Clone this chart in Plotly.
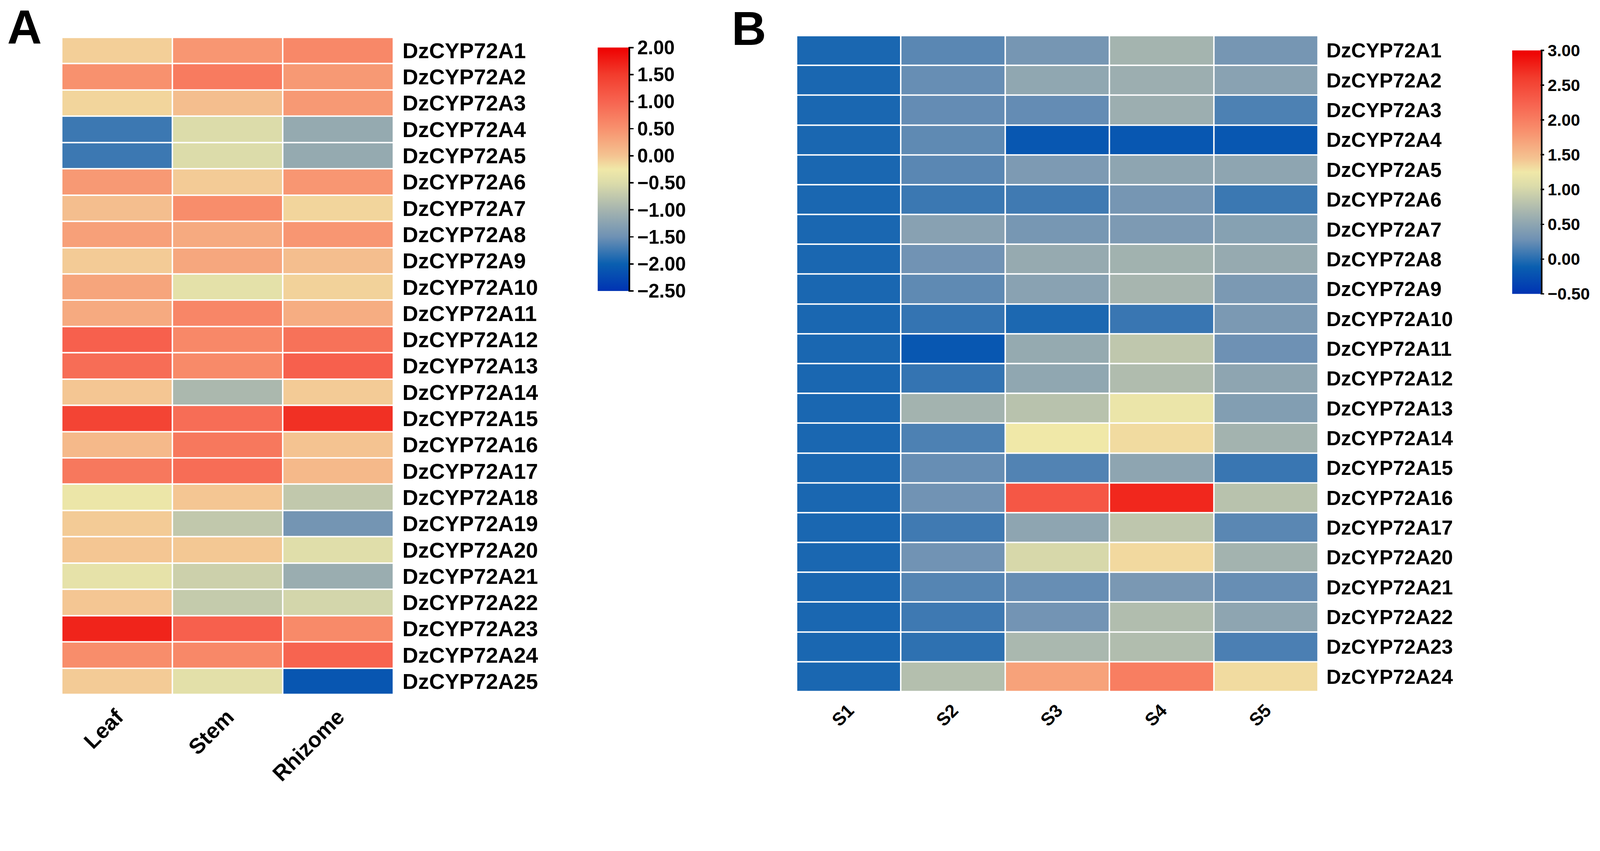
import plotly.graph_objects as go

W, H = 4409, 2179

# ---------------- Panel A data ----------------
genes_a = ["DzCYP72A1", "DzCYP72A2", "DzCYP72A3", "DzCYP72A4", "DzCYP72A5",
           "DzCYP72A6", "DzCYP72A7", "DzCYP72A8", "DzCYP72A9", "DzCYP72A10",
           "DzCYP72A11", "DzCYP72A12", "DzCYP72A13", "DzCYP72A14", "DzCYP72A15",
           "DzCYP72A16", "DzCYP72A17", "DzCYP72A18", "DzCYP72A19", "DzCYP72A20",
           "DzCYP72A21", "DzCYP72A22", "DzCYP72A23", "DzCYP72A24", "DzCYP72A25"]
tissues = ["Leaf", "Stem", "Rhizome"]
leaf = [-0.08, 0.50, -0.12, -1.75, -1.75, 0.42, 0.05, 0.35, -0.05, 0.30, 0.25, 1.05, 0.90,
        -0.02, 1.40, 0.10, 0.78, -0.30, -0.05, -0.02, -0.38, -0.02, 1.70, 0.55, -0.05]
stem = [0.45, 0.75, 0.05, -0.50, -0.50, -0.05, 0.55, 0.25, 0.28, -0.40, 0.62, 0.60, 0.58,
        -0.95, 0.90, 0.78, 0.90, -0.02, -0.75, -0.03, -0.65, -0.72, 1.05, 0.60, -0.42]
rhizome = [0.60, 0.42, 0.42, -1.15, -1.15, 0.45, -0.12, 0.45, 0.05, -0.10, 0.22, 0.85, 1.05,
           -0.05, 1.60, 0.00, 0.10, -0.75, -1.45, -0.45, -1.10, -0.58, 0.58, 1.00, -2.10]
ticks_a = [2.0, 1.5, 1.0, 0.5, 0.0, -0.5, -1.0, -1.5, -2.0, -2.5]

# ---------------- Panel B data ----------------
genes_b = ["DzCYP72A1", "DzCYP72A2", "DzCYP72A3", "DzCYP72A4", "DzCYP72A5",
           "DzCYP72A6", "DzCYP72A7", "DzCYP72A8", "DzCYP72A9", "DzCYP72A10",
           "DzCYP72A11", "DzCYP72A12", "DzCYP72A13", "DzCYP72A14", "DzCYP72A15",
           "DzCYP72A16", "DzCYP72A17", "DzCYP72A20", "DzCYP72A21", "DzCYP72A22",
           "DzCYP72A23", "DzCYP72A24"]
stages = ["S1", "S2", "S3", "S4", "S5"]
s1 = [-0.05, -0.05, -0.05, -0.05, -0.05, -0.05, -0.05, -0.05, -0.05, -0.05, -0.05,
      -0.05, -0.05, -0.05, -0.05, -0.05, -0.05, -0.05, -0.05, -0.05, -0.05, -0.05]
s2 = [0.20, 0.25, 0.24, 0.22, 0.20, 0.08, 0.46, 0.30, 0.22, 0.05, -0.18,
      0.05, 0.65, 0.15, 0.25, 0.30, 0.10, 0.30, 0.18, 0.09, 0.03, 0.77]
s3 = [0.33, 0.52, 0.24, -0.18, 0.38, 0.10, 0.34, 0.56, 0.47, -0.04, 0.55,
      0.52, 0.80, 1.25, 0.17, 2.35, 0.50, 1.02, 0.25, 0.31, 0.70, 1.70]
s4 = [0.66, 0.60, 0.60, -0.18, 0.50, 0.33, 0.38, 0.64, 0.68, 0.07, 0.85,
      0.74, 1.20, 1.32, 0.50, 2.75, 0.84, 1.33, 0.36, 0.75, 0.75, 2.00]
s5 = [0.33, 0.47, 0.15, -0.18, 0.50, 0.08, 0.45, 0.56, 0.37, 0.37, 0.28,
      0.50, 0.42, 0.65, 0.07, 0.80, 0.20, 0.65, 0.25, 0.50, 0.14, 1.32]
ticks_b = [3.0, 2.5, 2.0, 1.5, 1.0, 0.5, 0.0, -0.5]

colorscale = [
    [0.000, "#0033b3"],
    [0.111, "#0a5fb0"],
    [0.222, "#6e91b4"],
    [0.333, "#a5b4af"],
    [0.444, "#dcdcaa"],
    [0.500, "#f0e8a8"],
    [0.556, "#f4c391"],
    [0.667, "#f8916e"],
    [0.778, "#f76450"],
    [0.889, "#f23c2d"],
    [1.000, "#ee0000"],
]

FONT = "Arial, Liberation Sans, Helvetica, sans-serif"

z_a = [[leaf[i], stem[i], rhizome[i]] for i in range(len(genes_a))]
z_b = [[s1[i], s2[i], s3[i], s4[i], s5[i]] for i in range(len(genes_b))]


def px_x(p):
    return p / W


def px_y(p):
    return 1 - p / H


fig = go.Figure()

fig.add_trace(go.Heatmap(
    z=z_a, x=tissues, y=genes_a, xaxis="x", yaxis="y",
    colorscale=colorscale, zmin=-2.5, zmax=2.0, xgap=4, ygap=4,
    colorbar=dict(
        x=px_x(1647), xanchor="left", xpad=0,
        y=px_y(131), yanchor="top", ypad=0,
        len=(802 - 131) / H, lenmode="fraction",
        thickness=85, thicknessmode="pixels",
        outlinewidth=0,
        tickvals=ticks_a, tickformat=".2f",
        ticks="outside", ticklen=14, tickwidth=4, tickcolor="black",
        tickfont=dict(family=FONT, size=53, color="black", weight="bold"),
    ),
))

fig.add_trace(go.Heatmap(
    z=z_b, x=stages, y=genes_b, xaxis="x2", yaxis="y2",
    colorscale=colorscale, zmin=-0.5, zmax=3.0, xgap=4, ygap=4,
    colorbar=dict(
        x=px_x(4167), xanchor="left", xpad=0,
        y=px_y(139), yanchor="top", ypad=0,
        len=(810 - 139) / H, lenmode="fraction",
        thickness=79, thicknessmode="pixels",
        outlinewidth=0,
        tickvals=ticks_b, tickformat=".2f",
        ticks="outside", ticklen=10, tickwidth=4, tickcolor="black",
        tickfont=dict(family=FONT, size=46, color="black", weight="bold"),
    ),
))

axis_common = dict(showgrid=False, zeroline=False, showline=False, ticks="")

fig.update_layout(
    width=W, height=H,
    margin=dict(l=0, r=0, t=0, b=0, autoexpand=False),
    paper_bgcolor="white", plot_bgcolor="white",
    xaxis=dict(domain=[px_x(170), px_x(1084)], anchor="y", tickangle=-45,
               ticklabelstandoff=14,
               tickfont=dict(family=FONT, size=60, color="black", weight="bold"),
               **axis_common),
    yaxis=dict(domain=[px_y(1914), px_y(103)], anchor="x", side="right",
               autorange="reversed", ticklabelstandoff=24,
               tickfont=dict(family=FONT, size=60, color="black", weight="bold"),
               **axis_common),
    xaxis2=dict(domain=[px_x(2195), px_x(3632)], anchor="y2", tickangle=-45,
                ticklabelstandoff=12,
                tickfont=dict(family=FONT, size=50, color="black", weight="bold"),
                **axis_common),
    yaxis2=dict(domain=[px_y(1906), px_y(98)], anchor="x2", side="right",
                autorange="reversed", ticklabelstandoff=22,
                tickfont=dict(family=FONT, size=56, color="black", weight="bold"),
                **axis_common),
    annotations=[
        dict(text="A", xref="paper", yref="paper", x=px_x(18), y=px_y(0),
             xanchor="left", yanchor="top", showarrow=False,
             font=dict(family=FONT, size=132, color="black", weight="bold")),
        dict(text="B", xref="paper", yref="paper", x=px_x(2014), y=px_y(3),
             xanchor="left", yanchor="top", showarrow=False,
             font=dict(family=FONT, size=132, color="black", weight="bold")),
    ],
    shapes=[
        dict(type="line", xref="paper", yref="paper",
             x0=px_x(1734), x1=px_x(1734), y0=px_y(131), y1=px_y(802),
             line=dict(color="black", width=5)),
        dict(type="line", xref="paper", yref="paper",
             x0=px_x(4248), x1=px_x(4248), y0=px_y(139), y1=px_y(810),
             line=dict(color="black", width=5)),
    ],
)

# Fit the fixed-size figure into whatever viewport the page is opened in.
fit_js = """
(function() {
  var gd = document.getElementById('{plot_id}');
  document.documentElement.style.margin = '0';
  document.documentElement.style.overflow = 'hidden';
  document.body.style.margin = '0';
  document.body.style.overflow = 'hidden';
  function fit() {
    var s = Math.min(window.innerWidth / %d, window.innerHeight / %d);
    gd.style.transformOrigin = '0 0';
    gd.style.transform = 'scale(' + s + ')';
  }
  fit();
  window.addEventListener('resize', fit);
})();
""" % (W, H)

fig.write_html("out.html", post_script=fit_js,
               config={"displayModeBar": False, "displaylogo": False})
